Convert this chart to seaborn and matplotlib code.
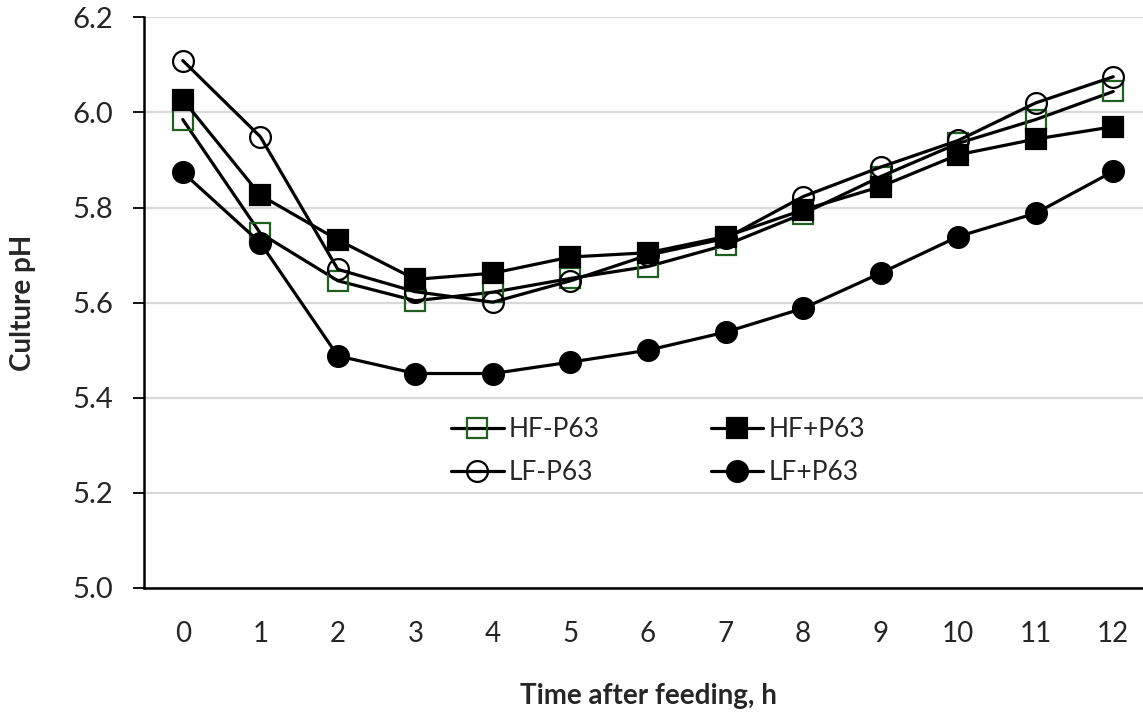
import numpy as np
import pandas as pd
import matplotlib
matplotlib.use("Agg")
import matplotlib.pyplot as plt
import seaborn as sns

hours = [0, 1, 2, 3, 4, 5, 6, 7, 8, 9, 10, 11, 12]
hf_minus = [5.985, 5.746, 5.646, 5.604, 5.622, 5.651, 5.676, 5.721, 5.787, 5.865, 5.935, 5.985, 6.044]
hf_plus = [6.027, 5.826, 5.732, 5.649, 5.662, 5.696, 5.705, 5.739, 5.795, 5.844, 5.911, 5.944, 5.970]
lf_minus = [6.109, 5.949, 5.670, 5.623, 5.601, 5.646, 5.700, 5.735, 5.823, 5.885, 5.941, 6.020, 6.075]
lf_plus = [5.874, 5.726, 5.488, 5.451, 5.451, 5.475, 5.500, 5.538, 5.588, 5.662, 5.739, 5.788, 5.876]
series_names = ["HF-P63", "LF-P63", "HF+P63", "LF+P63"]
y_ticks = [5.0, 5.2, 5.4, 5.6, 5.8, 6.0, 6.2]

sns.set_theme(style="white")
plt.rcParams["font.family"] = ["Lato", "DejaVu Sans"]

fig = plt.figure(figsize=(11.43, 7.15), dpi=100)
ax = fig.add_axes([144 / 1143, 1 - 588 / 715, (1152 - 144) / 1143, (588 - 17.3) / 715])

styles = {
    "HF-P63": dict(marker="s", markerfacecolor="none", markeredgecolor="#1f5f1f"),
    "LF-P63": dict(marker="o", markerfacecolor="none", markeredgecolor="black"),
    "HF+P63": dict(marker="s", markerfacecolor="black", markeredgecolor="black"),
    "LF+P63": dict(marker="o", markerfacecolor="black", markeredgecolor="black"),
}
values = {"HF-P63": hf_minus, "HF+P63": hf_plus, "LF-P63": lf_minus, "LF+P63": lf_plus}

for name in series_names:
    df = pd.DataFrame({"time": hours, "pH": values[name]})
    sns.lineplot(data=df, x="time", y="pH", ax=ax, color="black", linewidth=2.3,
                 markersize=15, markeredgewidth=1.6, errorbar=None, label=name,
                 **styles[name])

ax.set_xlim(-0.5, 12.5)
ax.set_ylim(5.0, 6.2)
ax.set_yticks(y_ticks)
ax.set_yticklabels([f"{v:.1f}" for v in y_ticks])
ax.set_xticks(hours)
ax.set_xticklabels([str(h) for h in hours])
ax.set_xticks(np.arange(-0.5, 12.6, 1.0), minor=True)
ax.tick_params(axis="x", which="major", length=0, pad=24, labelsize=20)
ax.tick_params(axis="x", which="minor", length=8, width=1.3, color="black", direction="out")
ax.tick_params(axis="y", which="major", length=8, width=1.3, color="black", direction="out",
               pad=14, labelsize=21, left=True)

ax.yaxis.grid(True, color="#d9d9d9", linewidth=1.6)
ax.xaxis.grid(False)
ax.set_axisbelow(True)
for s in ["top", "right"]:
    ax.spines[s].set_visible(False)
for s in ["left", "bottom"]:
    ax.spines[s].set_color("black")
    ax.spines[s].set_linewidth(1.8)

ax.set_xlabel("Time after feeding, h", fontsize=20, fontweight="bold", labelpad=26)
ax.set_ylabel("Culture pH", fontsize=20, fontweight="bold", labelpad=26)

leg = ax.legend(ncol=2, loc="center", bbox_to_anchor=(0.51, 0.24), frameon=False,
                fontsize=19, handlelength=2.0, handletextpad=0.2, columnspacing=4.2,
                labelspacing=0.7)

fig.savefig("out.png", dpi=100)
